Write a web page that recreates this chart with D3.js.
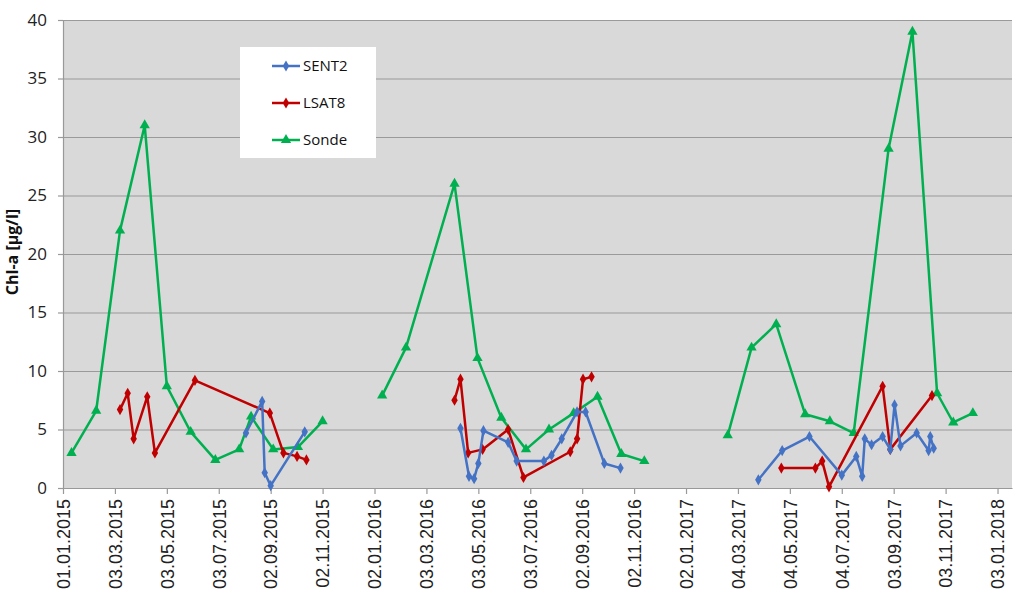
<!DOCTYPE html>
<html>
<head>
<meta charset="utf-8">
<script src="https://cdn.jsdelivr.net/npm/d3@7"></script>
<style>
  body { margin: 0; background: #fff; }
  .ytick text { font-family: "Open Sans", "Noto Sans", sans-serif; font-size: 17px; fill: #222; }
  .xtick text { font-family: "Liberation Sans", Arial, sans-serif; font-size: 18px; fill: #222; }
  .legend text { font-family: "Open Sans", "Noto Sans", sans-serif; font-size: 15px; fill: #111; }
</style>
</head>
<body>
<div id="chart"></div>
<script>
// Data (null value = gap between seasons)
var sent2 = [
  ["2015-08-04", 4.7], ["2015-08-23", 7.4], ["2015-08-26", 1.3], ["2015-09-02", 0.2], ["2015-10-12", 4.8],
  ["2016-01-01", null],
  ["2016-04-12", 5.1], ["2016-04-22", 1.0], ["2016-04-28", 0.8], ["2016-05-03", 2.1], ["2016-05-09", 4.9],
  ["2016-06-07", 3.9], ["2016-06-17", 2.3], ["2016-07-19", 2.3], ["2016-07-28", 2.8], ["2016-08-09", 4.2],
  ["2016-08-27", 6.5], ["2016-09-06", 6.5], ["2016-09-28", 2.1], ["2016-10-17", 1.7],
  ["2017-01-01", null],
  ["2017-03-28", 0.7], ["2017-04-25", 3.2], ["2017-05-27", 4.4], ["2017-07-04", 1.1], ["2017-07-21", 2.7],
  ["2017-07-28", 1.0], ["2017-07-31", 4.2], ["2017-08-08", 3.7], ["2017-08-21", 4.4], ["2017-08-30", 3.3],
  ["2017-09-04", 7.1], ["2017-09-11", 3.6], ["2017-09-30", 4.7], ["2017-10-14", 3.2], ["2017-10-16", 4.4],
  ["2017-10-20", 3.4]
]

var lsat8 = [
  ["2015-03-09", 6.7], ["2015-03-18", 8.1], ["2015-03-25", 4.2], ["2015-04-10", 7.8], ["2015-04-19", 3.0],
  ["2015-06-05", 9.2], ["2015-09-01", 6.4], ["2015-09-17", 3.0], ["2015-10-03", 2.7], ["2015-10-14", 2.4],
  ["2016-01-01", null],
  ["2016-04-05", 7.5], ["2016-04-12", 9.3], ["2016-04-21", 3.0], ["2016-05-08", 3.3], ["2016-06-07", 5.0],
  ["2016-06-25", 0.9], ["2016-08-19", 3.1], ["2016-08-27", 4.2], ["2016-09-03", 9.3], ["2016-09-13", 9.5],
  ["2017-01-01", null],
  ["2017-04-24", 1.7], ["2017-06-03", 1.7], ["2017-06-11", 2.3], ["2017-06-19", 0.1], ["2017-08-21", 8.7],
  ["2017-08-30", 3.3], ["2017-10-18", 7.9]
]

var sonde = [
  ["2015-01-11", 3.0], ["2015-02-09", 6.6], ["2015-03-09", 22], ["2015-04-07", 31], ["2015-05-03", 8.7],
  ["2015-05-31", 4.8], ["2015-06-29", 2.4], ["2015-07-27", 3.3], ["2015-08-10", 6.1], ["2015-09-05", 3.3],
  ["2015-10-04", 3.5], ["2015-11-02", 5.7],
  ["2015-12-15", null],
  ["2016-01-11", 7.9], ["2016-02-08", 12], ["2016-04-05", 26], ["2016-05-02", 11.1], ["2016-05-30", 6.0],
  ["2016-06-28", 3.3], ["2016-07-25", 5.0], ["2016-08-23", 6.4], ["2016-09-20", 7.8], ["2016-10-18", 2.9],
  ["2016-11-14", 2.3],
  ["2017-01-01", null],
  ["2017-02-20", 4.5], ["2017-03-20", 12], ["2017-04-18", 14], ["2017-05-22", 6.3], ["2017-06-20", 5.7],
  ["2017-07-18", 4.7], ["2017-08-28", 29], ["2017-09-25", 39], ["2017-10-24", 8.1], ["2017-11-12", 5.6],
  ["2017-12-05", 6.4]
]

var tickDates = ["2015-01-01", "2015-03-03", "2015-05-03", "2015-07-03", "2015-09-02", "2015-11-02",
  "2016-01-02", "2016-03-03", "2016-05-03", "2016-07-03", "2016-09-02", "2016-11-02",
  "2017-01-02", "2017-03-04", "2017-05-04", "2017-07-04", "2017-09-03", "2017-11-03", "2018-01-03"]

var yTicks = [0, 5, 10, 15, 20, 25, 30, 35, 40]

// Canvas
var margin = {top: 20, right: 12, bottom: 107, left: 63},
    width = 1024 - margin.left - margin.right,
    height = 595 - margin.top - margin.bottom

var svg = d3.select("#chart")
  .append("svg")
  .attr("width", 1024)
  .attr("height", 595)

var g = svg.append("g")
  .attr("transform", "translate(" + margin.left + "," + margin.top + ")")

var parseDate = d3.utcParse("%Y-%m-%d")
var fmt = d3.utcFormat("%d.%m.%Y")

var xPositionScale = d3.scaleUtc()
  .domain([parseDate("2015-01-01"), parseDate("2018-01-20")])
  .range([0, width])

var yPositionScale = d3.scaleLinear()
  .domain([0, 40])
  .range([height, 0])

g.append("rect")
  .attr("width", width)
  .attr("height", height)
  .attr("fill", "#d9d9d9")

// gridlines
g.selectAll(".grid")
  .data(yTicks.filter(function(d) { return d > 0 }))
  .enter().append("line")
  .attr("x1", 0)
  .attr("x2", width)
  .attr("y1", function(d) { return yPositionScale(d) + 0.5 })
  .attr("y2", function(d) { return yPositionScale(d) + 0.5 })
  .attr("stroke", "#9a9a9a")
  .attr("stroke-width", 1.2)

// Axes
var yAxis = d3.axisLeft(yPositionScale)
  .tickValues(yTicks)
  .tickSize(5)
  .tickPadding(11)

var yg = g.append("g")
  .attr("class", "ytick")
  .call(yAxis)
yg.select(".domain").attr("stroke", "#999").attr("stroke-width", 1.2)
yg.selectAll("line").attr("stroke", "#999").attr("stroke-width", 1.2)

var xAxis = d3.axisBottom(xPositionScale)
  .tickValues(tickDates.map(parseDate))
  .tickFormat(fmt)
  .tickSize(6)
  .tickSizeOuter(0)

var xg = g.append("g")
  .attr("class", "xtick")
  .attr("transform", "translate(0," + height + ")")
  .call(xAxis)
xg.select(".domain").attr("stroke", "#999").attr("stroke-width", 1.2)
xg.selectAll("line").attr("stroke", "#999").attr("stroke-width", 1.2)
xg.selectAll("text")
  .attr("transform", "rotate(-90)")
  .attr("text-anchor", "end")
  .attr("x", -11)
  .attr("y", 0)
  .attr("dy", "0.35em")

svg.append("text")
  .attr("transform", "translate(18," + (margin.top + height / 2 - 2) + ") rotate(-90)")
  .attr("text-anchor", "middle")
  .attr("font-family", "'Open Sans', sans-serif")
  .attr("font-weight", "bold")
  .attr("font-size", 16)
  .attr("fill", "#111")
  .text("Chl-a [µg/l]")

// Series
var series = [
  {name: "SENT2", data: sent2, color: "#4472c4", symbol: d3.symbolDiamond, size: 36},
  {name: "LSAT8", data: lsat8, color: "#c00000", symbol: d3.symbolDiamond, size: 36},
  {name: "Sonde", data: sonde, color: "#00b050", symbol: d3.symbolTriangle, size: 46}
]

var line = d3.line()
  .defined(function(d) { return d[1] != null })
  .x(function(d) { return xPositionScale(parseDate(d[0])) })
  .y(function(d) { return yPositionScale(d[1]) })

series.slice().reverse().forEach(function(s) {
  g.append("path")
    .datum(s.data)
    .attr("d", line)
    .attr("fill", "none")
    .attr("stroke", s.color)
    .attr("stroke-width", 2.5)
    .attr("stroke-linejoin", "round")

  g.selectAll(".pt-" + s.name)
    .data(s.data.filter(function(d) { return d[1] != null }))
    .enter().append("path")
    .attr("d", d3.symbol().type(s.symbol).size(s.size))
    .attr("transform", function(d) {
      return "translate(" + xPositionScale(parseDate(d[0])) + "," + yPositionScale(d[1]) + ")"
    })
    .attr("fill", s.color)
})

// Legend
var legend = svg.append("g")
  .attr("class", "legend")
  .attr("transform", "translate(240,47)")

legend.append("rect")
  .attr("width", 136)
  .attr("height", 111)
  .attr("fill", "#fff")

var entry = legend.selectAll(".entry")
  .data(series)
  .enter().append("g")
  .attr("transform", function(d, i) { return "translate(0," + (19 + i * 37) + ")" })

entry.append("line")
  .attr("x1", 32).attr("x2", 60)
  .attr("stroke", function(d) { return d.color })
  .attr("stroke-width", 2.5)

entry.append("path")
  .attr("d", function(d) { return d3.symbol().type(d.symbol).size(d.size)() })
  .attr("transform", "translate(46,0)")
  .attr("fill", function(d) { return d.color })

entry.append("text")
  .attr("x", 63)
  .attr("dy", "0.35em")
  .text(function(d) { return d.name })
</script>
</body>
</html>
